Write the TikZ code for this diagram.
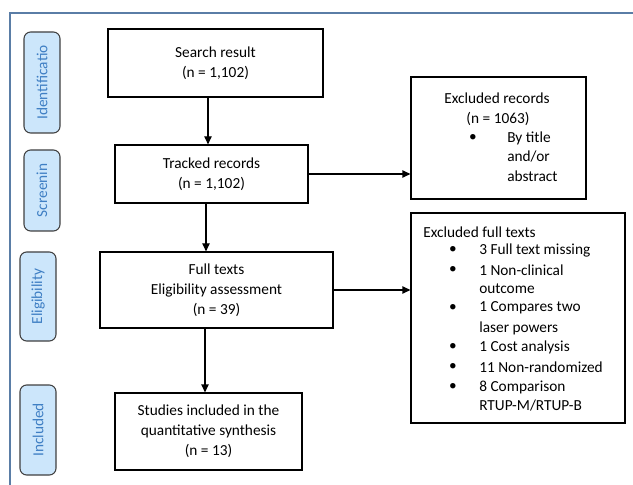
\documentclass[tikz,border=0pt]{standalone}
\usepackage{fontspec}
\setmainfont{Carlito}
\usetikzlibrary{arrows.meta}
\definecolor{framecol}{HTML}{5A7DA6}
\definecolor{stagefill}{HTML}{CCE6FB}
\definecolor{stagetext}{HTML}{3F7FC4}
\tikzset{
  box/.style={draw, line width=0.9pt, align=center, inner sep=1pt,
    font=\fontsize{11.5pt}{15pt}\selectfont},
  txt/.style={inner sep=0pt, font=\fontsize{11.5pt}{15pt}\selectfont},
  stage/.style={draw=black!75, line width=0.8pt, rounded corners=5pt, fill=stagefill,
    text=stagetext, rotate=90, minimum height=27pt, inner sep=0pt,
    font=\fontsize{11.5pt}{14pt}\selectfont},
  flow/.style={-{Triangle[length=6pt,width=5.5pt]}, line width=0.9pt},
}
\begin{document}
\begin{tikzpicture}[x=0.75pt, y=-0.75pt]
  \useasboundingbox (0,0) rectangle (633,485);
  \draw[framecol, line width=1.3pt] (10,485) -- (10,13) -- (633,13);

  % stages
  \node[stage, minimum width=75.75pt] (ident) at (42,82.5) {Identificatio};
  \node[stage, minimum width=60.75pt] (screen) at (42,190.5) {Screenin};
  \node[stage, minimum width=66.75pt] (elig) at (38,296.5) {Eligibility};
  \node[stage, minimum width=67.5pt] (incl) at (38,430) {Included};

  % main column
  \node[box, minimum width=161.25pt, minimum height=51pt] (search) at (215.5,63)
    {Search result\\(n = 1,102)};
  \node[box, minimum width=144.75pt, minimum height=43.5pt] (tracked) at (211.5,174)
    {Tracked records\\(n = 1,102)};
  \node[box, minimum width=174.75pt, minimum height=57pt] (fulltext) at (216.5,290)
    {Full texts\\Eligibility assessment\\(n = 39)};
  \node[box, minimum width=140.25pt, minimum height=57.75pt] (studies) at (208.5,431.5)
    {Studies included in the\\quantitative synthesis\\(n = 13)};

  % exclusions
  \node[box, minimum width=131.25pt, minimum height=91.5pt] (exrec) at (498.5,138) {};
  \node[txt] (exrechead) at (497,98) {Excluded records};
  \node[txt] (exrecn) at (498,119) {(n = 1063)};
  \node[txt] (exrecdot) at (473,138) {\textbullet};
  \foreach \yy/\txt in {138/By title, 157/{and/or}, 176/abstract}
    \node[txt, anchor=west] at (507,\yy) {\txt};

  \node[box, minimum width=160.5pt, minimum height=157.5pt] (exfull) at (518,318) {};
  \node[txt, anchor=west] (exfullhead) at (423,232) {Excluded full texts};
  \foreach \yy in {250,270,308,347,367,387}
    \node[txt] at (453,\yy) {\textbullet};
  \foreach \yy/\txt in {250/3 Full text missing, 270/1 Non-clinical, 289/outcome,
      308/1 Compares two, 328/laser powers, 347/1 Cost analysis,
      367/11 Non-randomized, 387/8 Comparison, 406/{RTUP-M/RTUP-B}}
    \node[txt, anchor=west] at (479,\yy) {\txt};

  % arrows
  \draw[flow] (search.south -| 208,0) -- (tracked.north -| 208,0);
  \draw[flow] (tracked.south -| 206,0) -- (fulltext.north -| 206,0);
  \draw[flow] (fulltext.south -| 205,0) -- (studies.north -| 205,0);
  \draw[flow] (tracked.east) -- (tracked.east -| exrec.west);
  \draw[flow] (fulltext.east) -- (fulltext.east -| exfull.west);
\end{tikzpicture}
\end{document}
